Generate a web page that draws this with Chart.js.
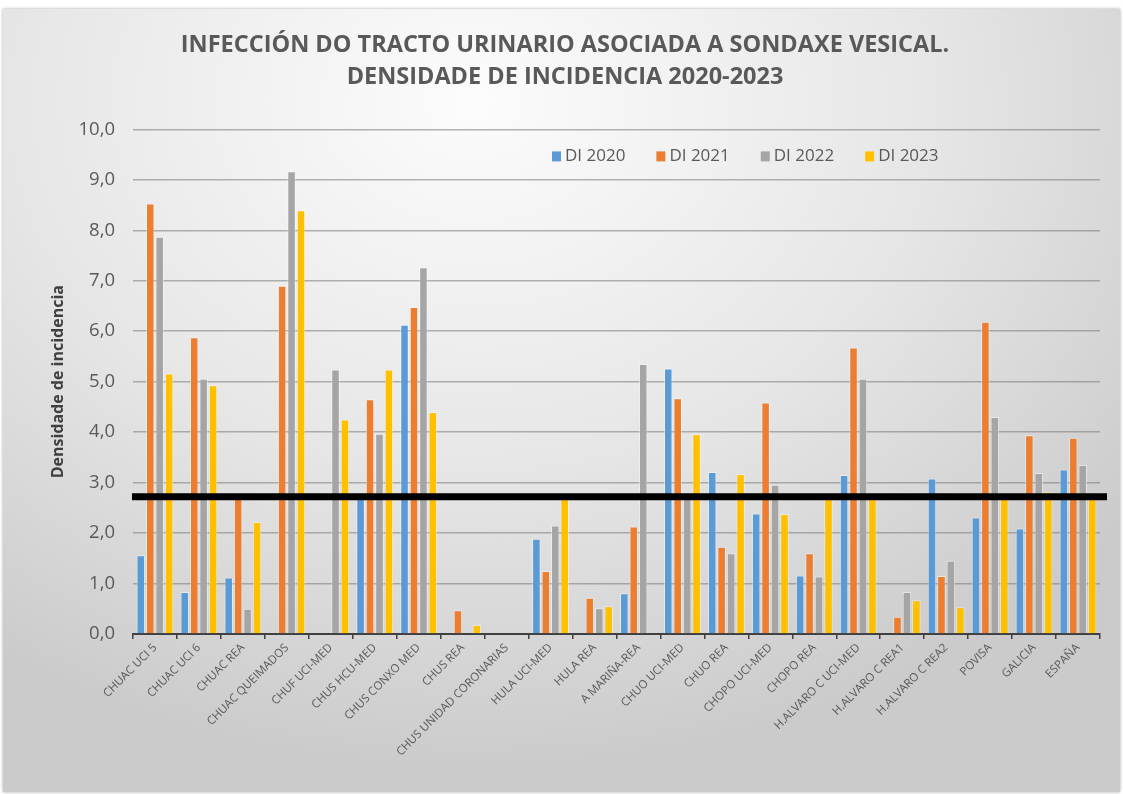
<!DOCTYPE html>
<html>
<head>
<meta charset="utf-8">
<script src="https://cdn.jsdelivr.net/npm/chart.js@4.4.1/dist/chart.umd.min.js"></script>
<style>
  html, body { margin: 0; padding: 0; background: #fff; }
  #frame {
    position: absolute; left: 3px; top: 9px; width: 1117px; height: 783px;
    background: radial-gradient(ellipse 75% 85% at 42% 12%, #fcfcfc 0%, #e6e6e6 55%, #cbcbcb 100%);
    box-shadow: 0 0 3px rgba(0,0,0,0.35);
  }
  #wrap { position: absolute; left: 0; top: 0; width: 1123px; height: 794px; }
</style>
</head>
<body>
<div id="frame"></div>
<div id="wrap"><canvas id="myChart" width="1123" height="794"></canvas></div>
<script>
// datos
const unidades = ['CHUAC UCI 5', 'CHUAC UCI 6', 'CHUAC REA', 'CHUAC QUEIMADOS', 'CHUF UCI-MED',
  'CHUS HCU-MED', 'CHUS CONXO MED', 'CHUS REA', 'CHUS UNIDAD CORONARIAS', 'HULA UCI-MED',
  'HULA REA', 'A MARIÑA-REA', 'CHUO UCI-MED', 'CHUO REA', 'CHOPO UCI-MED', 'CHOPO REA',
  'H.ALVARO C UCI-MED', 'H.ALVARO C REA1', 'H.ALVARO C REA2', 'POVISA', 'GALICIA', 'ESPAÑA'];

const di2020 = [1.56, 0.83, 1.12, null, null, 2.70, 6.13, null, null, 1.89, null, 0.81,
  5.26, 3.21, 2.39, 1.16, 3.15, null, 3.08, 2.31, 2.09, 3.26];
const di2021 = [8.53, 5.88, 2.70, 6.90, null, 4.65, 6.48, 0.47, null, 1.25, 0.72, 2.13,
  4.67, 1.73, 4.59, 1.60, 5.68, 0.34, 1.15, 6.19, 3.94, 3.89];
const di2022 = [7.87, 5.06, 0.50, 9.17, 5.24, 3.97, 7.27, null, null, 2.15, 0.51, 5.35,
  2.70, 1.60, 2.96, 1.14, 5.06, 0.83, 1.45, 4.30, 3.19, 3.35];
const di2023 = [5.16, 4.93, 2.22, 8.40, 4.25, 5.24, 4.40, 0.18, null, 2.70, 0.55, null,
  3.96, 3.17, 2.38, 2.70, 2.70, 0.67, 0.53, 2.70, 2.82, 2.70];

const serieNomes = ['DI 2020', 'DI 2021', 'DI 2022', 'DI 2023'];
const yTickLabels = ['0,0', '1,0', '2,0', '3,0', '4,0', '5,0', '6,0', '7,0', '8,0', '9,0', '10,0'];
const liñaReferencia = 2.72;

const cores = ['#5B9BD5', '#ED7D31', '#A5A5A5', '#FFC000'];
const texto = '#595959';

// lenda dentro da área do gráfico
const lendaPlugin = {
  id: 'lenda',
  afterDraw(chart) {
    const ctx = chart.ctx;
    const area = chart.chartArea;
    let x = area.left + 419;
    const y = area.top + 27;
    ctx.save();
    ctx.font = '17px "Open Sans"';
    ctx.textBaseline = 'middle';
    ctx.textAlign = 'left';
    chart.data.datasets.forEach((ds, i) => {
      ctx.fillStyle = cores[i];
      ctx.fillRect(x, y - 5, 9, 10);
      ctx.fillStyle = texto;
      ctx.fillText(ds.label, x + 13, y);
      x += 13 + ctx.measureText(ds.label).width + 31;
    });
    ctx.restore();
  }
};

// liña negra
const liñaPlugin = {
  id: 'liña',
  afterDatasetsDraw(chart) {
    const ctx = chart.ctx;
    const area = chart.chartArea;
    const y = chart.scales.y.getPixelForValue(liñaReferencia);
    ctx.save();
    ctx.fillStyle = '#000';
    ctx.fillRect(area.left - 1, y - 3.5, area.right - area.left + 8, 7);
    ctx.restore();
  }
};

const series = [di2020, di2021, di2022, di2023];

new Chart(document.getElementById('myChart'), {
  type: 'bar',
  data: {
    labels: unidades,
    datasets: series.map((s, i) => ({
      label: serieNomes[i],
      data: s,
      backgroundColor: cores[i],
      borderColor: 'rgba(255,255,255,0.45)',
      borderWidth: 1,
      categoryPercentage: 0.86,
      barPercentage: 0.9
    }))
  },
  options: {
    responsive: false,
    animation: false,
    layout: { padding: { left: 30, right: 23, top: 0, bottom: 0 } },
    plugins: {
      legend: { display: false },
      tooltip: { enabled: false },
      title: {
        display: true,
        text: ['INFECCIÓN DO TRACTO URINARIO ASOCIADA A SONDAXE VESICAL.', 'DENSIDADE DE INCIDENCIA 2020-2023'],
        color: texto,
        font: { family: 'Open Sans', size: 23.5, weight: 'bold', lineHeight: 1.37 },
        padding: { top: 29, bottom: 36 }
      }
    },
    scales: {
      x: {
        grid: { drawOnChartArea: false, drawTicks: true, tickLength: 5, color: '#404040', lineWidth: 1.5 },
        border: { color: '#404040', width: 2 },
        ticks: {
          color: texto,
          font: { family: 'Open Sans', size: 11.5 },
          minRotation: 45,
          maxRotation: 45,
          padding: 2,
          autoSkip: false
        },
        afterFit(scale) { scale.height = 160; }
      },
      y: {
        min: 0,
        max: 10,
        ticks: {
          stepSize: 1,
          color: texto,
          font: { family: 'Open Sans', size: 18.5 },
          padding: 18,
          callback: (v, i) => yTickLabels[i]
        },
        grid: { color: 'rgba(120,120,120,0.55)', lineWidth: 1.6, drawTicks: false },
        border: { display: false },
        title: {
          display: true,
          text: 'Densidade de incidencia',
          color: '#404040',
          font: { family: 'Open Sans', size: 16, weight: 'bold' },
          padding: { top: 19, bottom: 0 }
        },
        afterFit(scale) { scale.width = 103; }
      }
    }
  },
  plugins: [liñaPlugin, lendaPlugin]
});
</script>
</body>
</html>
